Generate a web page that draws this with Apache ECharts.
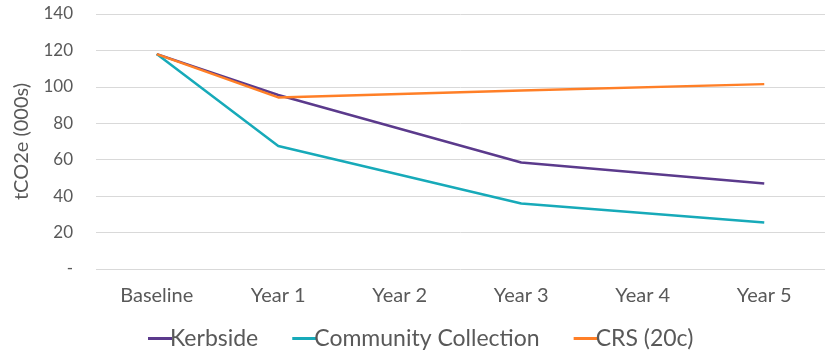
<!DOCTYPE html>
<html>
<head>
<meta charset="utf-8">
<script src="https://cdn.jsdelivr.net/npm/echarts@6/dist/echarts.min.js"></script>
<style>html,body{margin:0;padding:0;background:#fff}#c{width:825px;height:352px}</style>
</head>
<body>
<div id="c"></div>
<script>
const categories = ['Baseline', 'Year 1', 'Year 2', 'Year 3', 'Year 4', 'Year 5'];
const kerbside = [118, 95.5, null, 58.5, null, 47];
const community = [118, 67.5, null, 36, null, 25.5];
const crs = [118, 94.2, null, 98, null, 101.5];
const yTicks = [0, 20, 40, 60, 80, 100, 120, 140];
const seriesNames = ['Kerbside', 'Community Collection', 'CRS (20c)'];
const colors = ['#5B3A8C', '#17AAB9', '#FF7F27'];

const FONT = 'Lato';
const chart = echarts.init(document.getElementById('c'));
const mk = (name, data, color) => ({
  name, type: 'line', data, connectNulls: true, showSymbol: false, symbol: 'none',
  lineStyle: { width: 2.5, color }, itemStyle: { color }
});
chart.setOption({
  animation: false,
  grid: { left: 96, right: -7, top: 14, bottom: 83 },
  legend: {
    bottom: -3, left: 143, itemWidth: 24, itemHeight: 3, itemGap: 34,
    icon: 'rect',
    textStyle: { fontFamily: FONT, fontSize: 23, color: '#595959', padding: [0, 0, 0, -7] },
    data: seriesNames
  },
  xAxis: {
    type: 'category', data: categories, boundaryGap: true,
    axisLine: { show: false }, axisTick: { show: false },
    axisLabel: { fontFamily: FONT, fontSize: 20, color: '#595959', margin: 17 }
  },
  yAxis: {
    type: 'value', min: yTicks[0], max: yTicks[yTicks.length - 1], interval: 20,
    name: 'tCO2e (000s)', nameLocation: 'middle', nameGap: 64, nameRotate: 90,
    nameTextStyle: { fontFamily: FONT, fontSize: 20, color: '#595959' },
    axisLine: { show: false }, axisTick: { show: false },
    splitLine: { lineStyle: { color: '#d9d9d9', width: 1 } },
    axisLabel: { fontFamily: FONT, fontSize: 17, color: '#595959', margin: 23,
      formatter: v => v === 0 ? '-' : String(v) }
  },
  series: [mk(seriesNames[0], kerbside, colors[0]), mk(seriesNames[1], community, colors[1]), mk(seriesNames[2], crs, colors[2])]
});
</script>
</body>
</html>
